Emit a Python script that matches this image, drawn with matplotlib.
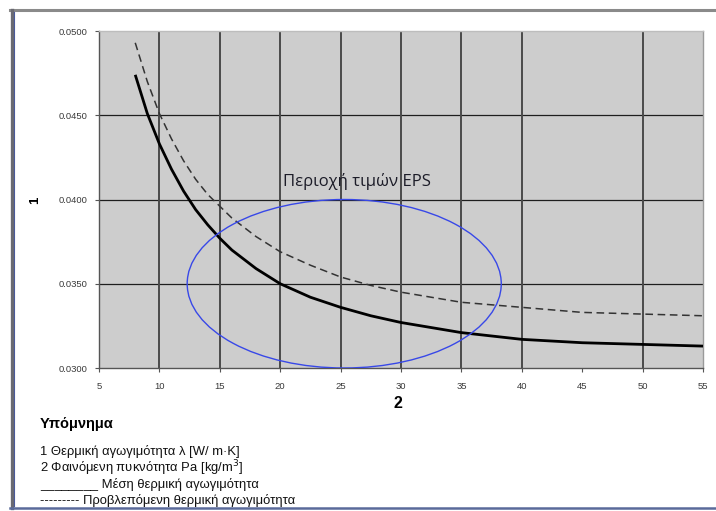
import matplotlib
matplotlib.use("Agg")
import matplotlib.pyplot as plt
from matplotlib.patches import Ellipse
from matplotlib.lines import Line2D

# ---- data ----
density = [8, 9, 10, 11, 12, 13, 14, 15, 16, 18, 20, 22.5, 25, 27.5, 30, 35, 40, 45, 50, 55]
mean_lambda = [0.0474, 0.0451, 0.0433, 0.0418, 0.0405, 0.0394, 0.0385, 0.0377, 0.0370,
               0.0359, 0.0350, 0.0342, 0.0336, 0.0331, 0.0327, 0.0321, 0.0317, 0.0315,
               0.0314, 0.0313]
pred_lambda = [0.0493, 0.0470, 0.0451, 0.0436, 0.0423, 0.0412, 0.0403, 0.0396, 0.0389,
               0.0378, 0.0369, 0.0361, 0.0354, 0.0349, 0.0345, 0.0339, 0.0336, 0.0333,
               0.0332, 0.0331]
x_ticks = [5, 10, 15, 20, 25, 30, 35, 40, 45, 50, 55]
y_ticks = [0.0300, 0.0350, 0.0400, 0.0450, 0.0500]
x_grid = [10, 15, 20, 25, 30, 35, 40, 50]
eps_center = (25.3, 0.0350)
eps_width = 26.0
eps_height = 0.0100
eps_label = "Περιοχή τιμών EPS"
y_label = "1"
x_label = "2"
legend_title = "Υπόμνημα"
legend_lines = [
    "1 Θερμική αγωγιμότητα λ [W/ m·K]",
    "2 Φαινόμενη πυκνότητα Pa [kg/m$^3$]",
    "________ Μέση θερμική αγωγιμότητα",
    "--------- Προβλεπόμενη θερμική αγωγιμότητα",
]

W, H = 716, 511
fig = plt.figure(figsize=(W / 100, H / 100), dpi=100)
fig.patch.set_facecolor("white")

def fx(px):
    return px / W

def fy(py):
    return 1 - py / H

ax = fig.add_axes([fx(99), fy(368), fx(703) - fx(99), fy(31) - fy(368)])
ax.set_facecolor("#cdcdcd")
ax.set_xlim(5, 55)
ax.set_ylim(0.03, 0.05)

# grid
for yv in y_ticks[1:-1]:
    ax.axhline(yv, color="#1e1e1e", lw=0.9, zorder=1)
for xv in x_grid:
    ax.axvline(xv, color="#4a4a4a", lw=1.4, zorder=1)

ax.plot(density, mean_lambda, color="black", lw=2.0, zorder=3, solid_capstyle="butt",
        solid_joinstyle="round")
ax.plot(density, pred_lambda, color="#333333", lw=1.1, ls=(0, (5, 3)), zorder=3)

ell = Ellipse(eps_center, eps_width, eps_height, fill=False, edgecolor="#3848e8", lw=1.0, zorder=4)
ax.add_patch(ell)
ax.text(20.2, 0.04055, eps_label, fontsize=12, family="Open Sans",
        color="#1c1c28", va="bottom", ha="left", zorder=5)

ax.set_xticks(x_ticks)
ax.set_xticklabels([str(v) for v in x_ticks])
ax.set_yticks(y_ticks)
ax.set_yticklabels([f"{v:.4f}" for v in y_ticks])
ax.tick_params(axis="both", labelsize=6.8, labelcolor="#3a3a3a", color="#555555",
               length=3, width=0.8, direction="out")
ax.tick_params(axis="x", pad=7)
ax.tick_params(axis="y", pad=5)
for lab in ax.get_xticklabels() + ax.get_yticklabels():
    lab.set_family("Liberation Sans")

ax.spines["left"].set_color("#555555")
ax.spines["bottom"].set_color("#555555")
ax.spines["right"].set_color("#9a9a9a")
ax.spines["top"].set_color("#bdbdbd")
for s in ax.spines.values():
    s.set_linewidth(1.0)

fig.text(fx(35), fy(200), y_label, rotation=90, fontsize=9.5, fontweight="bold",
         family="Liberation Sans", ha="center", va="center")
fig.text(fx(398), fy(404), x_label, fontsize=11.5, fontweight="bold",
         family="Liberation Sans", ha="center", va="center")

fig.text(fx(40), fy(424), legend_title, fontsize=10.5, fontweight="bold",
         family="Liberation Sans", ha="left", va="center")
for i, line in enumerate(legend_lines):
    fig.text(fx(40), fy(452 + i * 16.2), line, fontsize=9.4,
             family="Liberation Sans", ha="left", va="center", color="#111111")

# outer frame
fig.add_artist(Line2D([fx(10), fx(716)], [fy(10.5), fy(10.5)], transform=fig.transFigure,
                      color="#8a8a8a", lw=2.2))
fig.add_artist(Line2D([fx(11.5), fx(11.5)], [fy(10), fy(508)], transform=fig.transFigure,
                      color="#6a6a72", lw=2.4))
fig.add_artist(Line2D([fx(13.5), fx(13.5)], [fy(12), fy(506)], transform=fig.transFigure,
                      color="#4a5a9a", lw=0.8))
fig.add_artist(Line2D([fx(10), fx(716)], [fy(507.5), fy(507.5)], transform=fig.transFigure,
                      color="#5a6a9a", lw=1.8))

fig.savefig("out.png", dpi=100, facecolor="white")
